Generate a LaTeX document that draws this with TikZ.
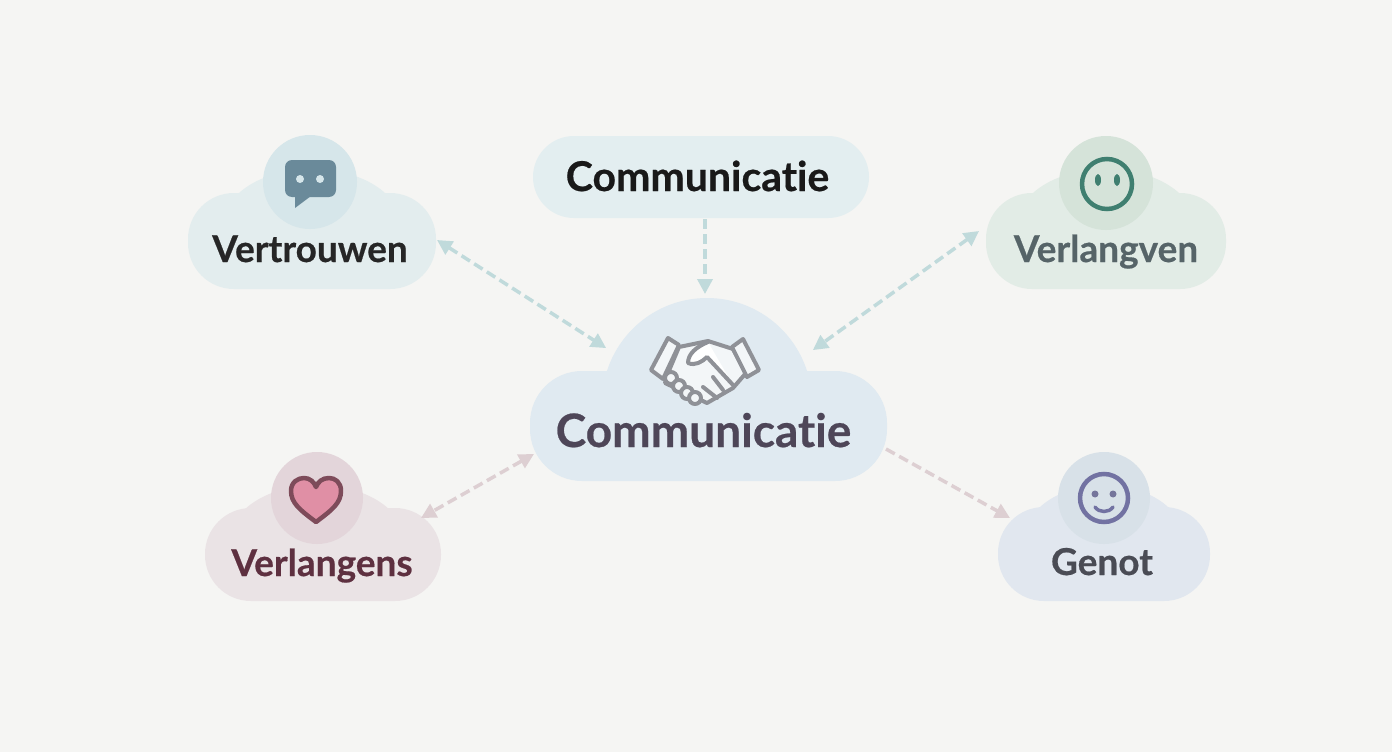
\documentclass[tikz,border=0pt]{standalone}
\usepackage{fontspec}
\setmainfont{Lato}[Ligatures=NoCommon,BoldFeatures={FakeBold=0.5}]
\usetikzlibrary{arrows.meta}
\definecolor{paper}{HTML}{F5F5F3}
\definecolor{maincloud}{HTML}{E0EAF1}
\definecolor{mainword}{HTML}{4E4658}
\definecolor{pillcloud}{HTML}{E3EEF0}
\definecolor{trustcloud}{HTML}{E3EDEE}
\definecolor{trustdisc}{HTML}{D6E6EA}
\definecolor{trustink}{HTML}{6A8A9A}
\definecolor{wishcloud}{HTML}{E2ECE6}
\definecolor{wishdisc}{HTML}{D5E3D9}
\definecolor{wishink}{HTML}{3F7F70}
\definecolor{wishword}{HTML}{566468}
\definecolor{lovecloud}{HTML}{EAE3E5}
\definecolor{lovedisc}{HTML}{E3D5DA}
\definecolor{loveink}{HTML}{7E4B5A}
\definecolor{lovefill}{HTML}{E08FA5}
\definecolor{loveword}{HTML}{5E3040}
\definecolor{joycloud}{HTML}{E1E7EF}
\definecolor{joydisc}{HTML}{D8E1E8}
\definecolor{joyink}{HTML}{7272A2}
\definecolor{joyword}{HTML}{4A4C55}
\definecolor{shakeink}{HTML}{8F9197}
\definecolor{shakefill}{HTML}{F3F6F8}
\definecolor{tealline}{HTML}{C0DADB}
\definecolor{pinkline}{HTML}{DDCFD2}
\tikzset{
  cloudbase/.style={rectangle,rounded corners=46pt,inner sep=0pt,outer sep=0pt},
  disc/.style={circle,inner sep=0pt,outer sep=0pt,minimum size=94pt},
  word/.style={inner sep=0pt,anchor=base,font=\fontsize{37}{37}\selectfont\bfseries},
  shake/.style={shakeink,line width=4pt,line join=round,line cap=round},
  link/.style={line width=3.5pt,dash pattern=on 10pt off 5pt,{Triangle[length=15pt,width=15pt]}-{Triangle[length=15pt,width=15pt]}},
  linkend/.style={line width=3.5pt,dash pattern=on 10pt off 5pt,-{Triangle[length=15pt,width=15pt]}}
}
\begin{document}
\begin{tikzpicture}[x=1pt,y=-1pt]
    \fill[paper] (0,0) rectangle (1392,752);
    \useasboundingbox (0,0) rectangle (1392,752);
    %% Centre cloud
    \begin{scope}
        \clip (500,280) rectangle (900,420);
        \node[circle,fill=maincloud,minimum size=210pt,inner sep=0pt,outer sep=0pt] (mainbump) at (707,403) {};
    \end{scope}
    \node[cloudbase,rounded corners=52pt,fill=maincloud,minimum width=357pt,minimum height=110pt] (mainbase) at (708.5,426) {};
    \draw[shake,fill=shakefill] (679,347) -- (708,341) -- (733,349) -- (746,373) -- (733,388) -- (707,403) -- (665,383) -- (668,373) -- cycle;
    \draw[shake,fill=shakefill] (668,338) -- (679,345) -- (663,379) -- (651,370) -- cycle;
    \draw[shake,fill=shakefill] (743,339) -- (759,370) -- (747,377) -- (732,347) -- cycle;
    \draw[shake,fill=white] (708,342) .. controls (696,347) and (688,354) .. (688,363) .. controls (695,366) and (702,362) .. (707,357) -- (733,385);
    \draw[shake] (713,377) -- (723,390);
    \draw[shake] (703,387) -- (717,398);
    \draw[shake,fill=shakefill] (671,378) circle (6);
    \draw[shake,fill=shakefill] (679,386) circle (6);
    \draw[shake,fill=shakefill] (687,393) circle (6);
    \draw[shake,fill=shakefill] (695,398) circle (6);
    \node[word,text=mainword,font=\fontsize{46}{46}\selectfont\bfseries] (main) at (703.5,447) {Communicatie};
    %% Top label
    \node[cloudbase,rounded corners=41pt,fill=pillcloud,minimum width=336pt,minimum height=82pt] (pill) at (701,177) {};
    \node[word,text=black!90,font=\fontsize{41}{41}\selectfont\bfseries] (top) at (697.5,191) {Communicatie};
    %% Vertrouwen
    \fill[trustcloud] (312,225) ellipse (89 and 56);
    \node[cloudbase,fill=trustcloud,minimum width=248pt,minimum height=96pt] (trustbase) at (312,241) {};
    \node[disc,fill=trustdisc] (trustdisc) at (310,182) {};
    \fill[trustink,rounded corners=7pt] (285,160) rectangle (336,197);
    \fill[trustink] (295,194) -- (295,208) -- (311,196) -- cycle;
    \fill[trustdisc] (300,179) circle (4);
    \fill[trustdisc] (320,179) circle (4);
    \node[word,text=black!85] (trust) at (310,262) {Vertrouwen};
    %% Verlangven
    \fill[wishcloud] (1106,225) ellipse (89 and 56);
    \node[cloudbase,fill=wishcloud,minimum width=240pt,minimum height=96pt] (wishbase) at (1106,241) {};
    \node[disc,fill=wishdisc] (wishdisc) at (1106,183) {};
    \draw[wishink,line width=4.5pt] (1107,184) circle (25);
    \fill[wishink] (1098,180) ellipse (3 and 6);
    \fill[wishink] (1117,180) ellipse (3 and 6);
    \node[word,text=wishword] (wish) at (1106,262) {Verlangven};
    %% Verlangens
    \fill[lovecloud] (317,540) ellipse (87 and 55);
    \node[cloudbase,fill=lovecloud,minimum width=236pt,minimum height=93pt] (lovebase) at (323,554.5) {};
    \node[disc,fill=lovedisc,minimum size=92pt] (lovedisc) at (317,498) {};
    \draw[loveink,fill=lovefill,line width=4.5pt,line join=round] (316,522) .. controls (300,510) and (291,503) .. (291,491) .. controls (291,482) and (298,478) .. (304,478) .. controls (310,478) and (314,482) .. (316,487) .. controls (318,482) and (322,478) .. (329,478) .. controls (335,478) and (341,482) .. (341,491) .. controls (341,503) and (332,510) .. (316,522) -- cycle;
    \node[word,text=loveword] (love) at (322,576) {Verlangens};
    %% Genot
    \fill[joycloud] (1104,540) ellipse (80 and 55);
    \node[cloudbase,fill=joycloud,minimum width=212pt,minimum height=94pt] (joybase) at (1104,554) {};
    \node[disc,fill=joydisc,minimum size=92pt] (joydisc) at (1104,498) {};
    \draw[joyink,line width=4.5pt] (1104,498) circle (24);
    \fill[joyink!80!gray] (1095,494) circle (3.5);
    \fill[joyink!80!gray] (1113,494) circle (3.5);
    \draw[joyink,line width=3.5pt,line cap=round] (1095,507) .. controls (1099,513) and (1109,513) .. (1113,507);
    \node[word,text=joyword] (joy) at (1102,575) {Genot};
    %% Links
    \draw[link,tealline] ([shift={(1,-1)}]trustbase.east) -- ([shift={(-9,-4)}]mainbump.151);
    \draw[linkend,tealline] ([shift={(4,1)}]pill.south) -- ([shift={(-2,-4)}]mainbump.north);
    \draw[link,tealline] ([shift={(-7,-10)}]wishbase.west) -- ([shift={(14,-2)}]mainbump.29);
    \draw[link,pinkline] ([shift={(4,28)}]mainbase.west) -- ([shift={(-20,10)}]lovebase.north east);
    \draw[linkend,pinkline] ([shift={(-1,23)}]mainbase.east) -- ([shift={(12,11)}]joybase.north west);
\end{tikzpicture}
\end{document}
